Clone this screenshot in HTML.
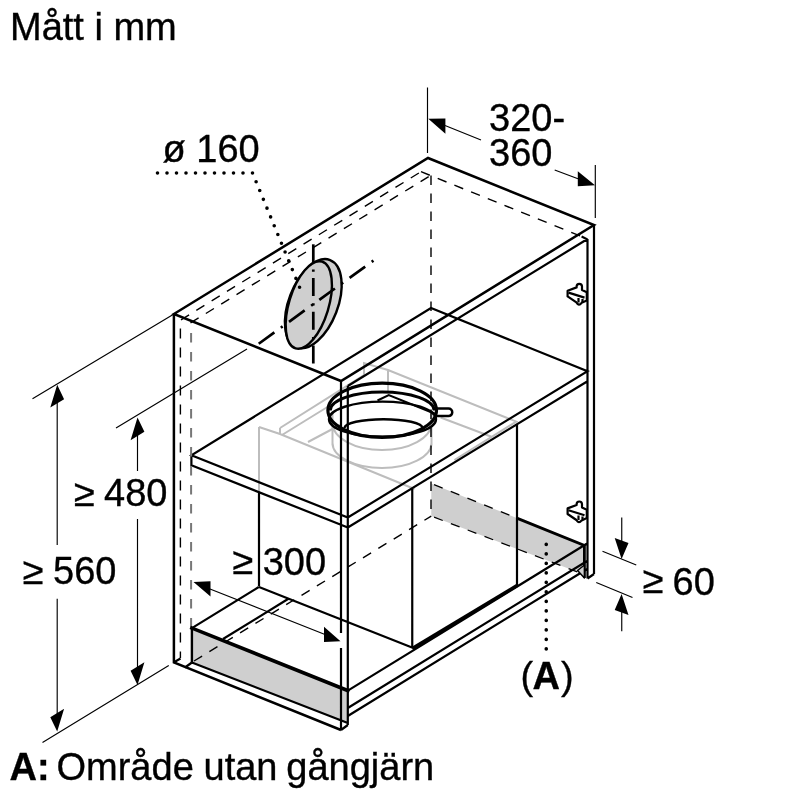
<!DOCTYPE html>
<html><head><meta charset="utf-8">
<style>
html,body{margin:0;padding:0;background:#fff;width:800px;height:800px;overflow:hidden}
svg{position:absolute;left:0;top:0;will-change:transform}
text{font-family:"Liberation Sans",sans-serif;fill:#000;stroke:#000;stroke-width:0.35px}
</style></head><body>
<svg width="800" height="800" viewBox="0 0 800 800">

<g font-size="38">
<text x="10" y="40">Mått i mm</text>
<text x="162.5" y="162">ø 160</text>
<text x="489" y="131">320-</text>
<text x="489" y="166">360</text>
<text x="74" y="506">≥</text><text x="104" y="506">480</text>
<text x="22.7" y="584">≥</text><text x="53" y="584">560</text>
<text x="232.5" y="574">≥</text><text x="262.7" y="575">300</text>
<text x="642.7" y="593">≥</text><text x="672.5" y="594.5">60</text>
<text x="520.5" y="689">(</text><text x="532.5" y="689" font-weight="bold">A</text><text x="561" y="689">)</text>
<text x="9.5" y="780" font-weight="bold">A:</text>
<text x="56.5" y="780">Område</text>
<text x="203.5" y="780">utan</text>
<text x="286.3" y="780">gångjärn</text>
</g>

<path fill="#cfcfcf" d="M191.9,628.1 L348.8,690.6 L348.8,723.0 L191.9,662.5 Z"/>
<path fill="#cfcfcf" d="M431.25,483.5 L584.4,545.4 L584.4,578 L577.6,572 L431.25,516.1 Z"/>
<ellipse cx="313.3" cy="303.7" rx="24.5" ry="46.8" transform="rotate(21 313.3 303.7)" fill="#cfcfcf" stroke="#000" stroke-width="2.4"/>
<ellipse cx="308.8" cy="305" rx="19.8" ry="45.3" transform="rotate(17 308.8 305)" fill="#cfcfcf" stroke="#000" stroke-width="2.4"/>
<path fill="none" stroke="#bdbdbd" stroke-width="2" d="M259,427 V492.8 M259,427 L280,434 L414.5,489 M280,428 V434 M280,428 L364,375.2 V363 L388,370 L516.3,421.6 L454.4,460 M388,370 V392 M282,435 L342,398 M308,442 L340,425 M440.6,417.5 L491.5,436.8"/>
<path fill="none" stroke="#bdbdbd" stroke-width="2" d="M332.5,412 V445 M431.5,412 V445 M332.5,423 A49.5,27 0 0 0 431.5,423 M332.5,443 A49.5,25 0 0 0 431.5,443"/>
<path fill="none" stroke="#000" stroke-width="2.5" stroke-linejoin="miter" d="M173.9,314.0 L428.0,158.0 L594.0,225.0 L341.0,381.0 Z M173.9,314.0 L173.9,662.5 L341.0,730.0"/>
<path fill="none" stroke="#000" stroke-width="2.2" d="M341,381 V633 M341,648 V730 M347.8,386 V725 M594,225 V574 M587.5,239 V578.5 M587.5,578.5 L594,574 M341,730 L347.8,725 M347.8,386 L587.5,239 M581.6,236.6 L587.5,239.4 M191.4,455.3 L347.8,517.5 L587.5,371.3 L431,308 Z M191.4,455.3 V465.3 L347.8,527.5 M347.8,527.5 L587.5,381.2 M347.8,690.6 L587.5,543.3 M223,639 L288,599 M191.9,628.1 L258.75,587 M191.9,662.5 L347.8,723 M347.8,708 L587.5,560.7 M347.8,716 L587.5,568.7 M185,667.5 L191.9,662.5 M173.5,662.5 L180.5,658.5 M412.25,489 V648.5 M517,585.5 V424.4 M259,492.8 V586.3 M259,587 L412,647.5"/>
<g fill="none" stroke="#000"><path stroke-width="2.5" d="M436,408.6 H448.5 A3.75,3.75 0 0 1 448.5,416.1 H436"/><ellipse cx="382.2" cy="410.3" rx="54.3" ry="27.1" stroke-width="3.2"/><path stroke-width="3" d="M330.2,410.4 A52,18.5 0 0 1 434.2,410.4"/><ellipse cx="382.5" cy="419.2" rx="53.5" ry="17.6" stroke-width="2.4"/><path stroke-width="2.4" d="M344.5,428 A39,8.8 0 0 1 422.5,428"/><path stroke-width="2" d="M377.5,400.5 L388.75,395 L435,413.75"/></g>
<path fill="none" stroke="#000" stroke-width="1.4" stroke-dasharray="9.5,8.5" d="M181,319.8 L421,171.7 M190.5,322.9 L430.5,175.5 M421,171.7 L587,238.7 M431,175.5 V516"/>
<path fill="none" stroke="#000" stroke-width="1.4" stroke-dasharray="10,9" stroke-dashoffset="0" d="M180.4,328.6 V658"/>
<path fill="none" stroke="#777" stroke-width="2" stroke-dasharray="9.5,9.5" d="M191.1,333 V628"/>
<path fill="none" stroke="#000" stroke-width="1.25" stroke-dasharray="9.3,8.7" stroke-dashoffset="-3" d="M431.25,483.5 L516.8,518.1 M431.25,516.1 L577.6,572"/>
<path fill="none" stroke="#000" stroke-width="2.8" d="M516.8,518.1 L584.4,545.4 V578"/>
<path fill="#cfcfcf" stroke="#000" stroke-width="1.5" stroke-linejoin="round" d="M577.6,570.5 L584.4,565 L584.4,578 Z"/>
<path fill="none" stroke="#000" stroke-width="1.4" stroke-dasharray="9.5,8.5" d="M194,661 L431.25,516.1"/>
<path fill="none" stroke="#000" stroke-width="2.4" d="M191.9,662.5 V628.1"/>
<path fill="none" stroke="#000" stroke-width="3.6" stroke-linecap="square" d="M191.9,628.1 L347.8,690.6"/>
<path fill="none" stroke="#000" stroke-width="3.3" d="M412.25,648.5 L517,585.5"/>
<g transform="translate(0,0)" fill="#fff" stroke="#000" stroke-width="2.2" stroke-linejoin="round"><path d="M567.6,290.8 L576.6,287.4 V286.6 A2.7,2.7 0 0 1 582,286.6 V290 L586.8,292.2 V300.4 L581.6,302.8 Q578.8,306.5 576.4,302.4 L567.6,296.4 Z"/><path fill="none" d="M568.5,292.6 L584.5,297.6 M578.5,298 V302.5 M582.5,299 V302"/></g>
<g transform="translate(0,217.6)" fill="#fff" stroke="#000" stroke-width="2.2" stroke-linejoin="round"><path d="M567.6,290.8 L576.6,287.4 V286.6 A2.7,2.7 0 0 1 582,286.6 V290 L586.8,292.2 V300.4 L581.6,302.8 Q578.8,306.5 576.4,302.4 L567.6,296.4 Z"/><path fill="none" d="M568.5,292.6 L584.5,297.6 M578.5,298 V302.5 M582.5,299 V302"/></g>
<path fill="none" stroke="#000" stroke-width="1.15" d="M57.2,400 V545 M57.2,598.7 V715 M32.5,398.75 L174,314 M42.5,742.5 L168.75,665.5 M137.5,432 V471 M137.5,519 V670 M116,428 L247,349 M427.5,87.5 V153 M595.3,165 V218 M445,125.5 L481,140 M554.7,170 L578,178.75 M210,589 L325,634.5 M621.75,517.5 V545 M602.5,551.25 L636.25,565 M596.25,582.5 L632.5,597.5 M621.75,608 V631.25"/>
<path fill="#000" d="M57.20,384.80 L50.30,407.44 L64.10,399.16 Z M57.20,731.50 L50.30,717.14 L64.10,708.86 Z M137.50,417.50 L130.60,440.14 L144.40,431.86 Z M137.50,685.00 L130.60,670.64 L144.40,662.36 Z M621.60,559.00 L614.70,537.88 L628.50,543.12 Z M621.60,594.00 L614.70,609.88 L628.50,615.12 Z M428.3,118.8 L445.4,118.4 L445.4,133.7 Z M595,185.3 L577.8,171.25 L577.8,186.25 Z M193.5,582 L210.5,581.25 L210.5,596.5 Z M340.5,641.25 L324,626.75 L324,642 Z"/>
<path fill="none" stroke="#000" stroke-width="3.6" stroke-linecap="round" stroke-dasharray="0,9.5" d="M157.5,173 L252.5,173 L299.7,287.5"/>
<path fill="none" stroke="#000" stroke-width="3.6" stroke-linecap="round" stroke-dasharray="0,9.5" d="M546.25,544.4 V649"/>
<path fill="none" stroke="#000" stroke-width="2.7" stroke-dasharray="18,7.3,2.2,6.2" d="M313.3,244.3 V364"/>
<path fill="none" stroke="#000" stroke-width="2.7" stroke-dasharray="19.3,8,2.2,7.9" d="M258.75,343.75 L374.5,259.8"/>
</svg>
</body></html>
